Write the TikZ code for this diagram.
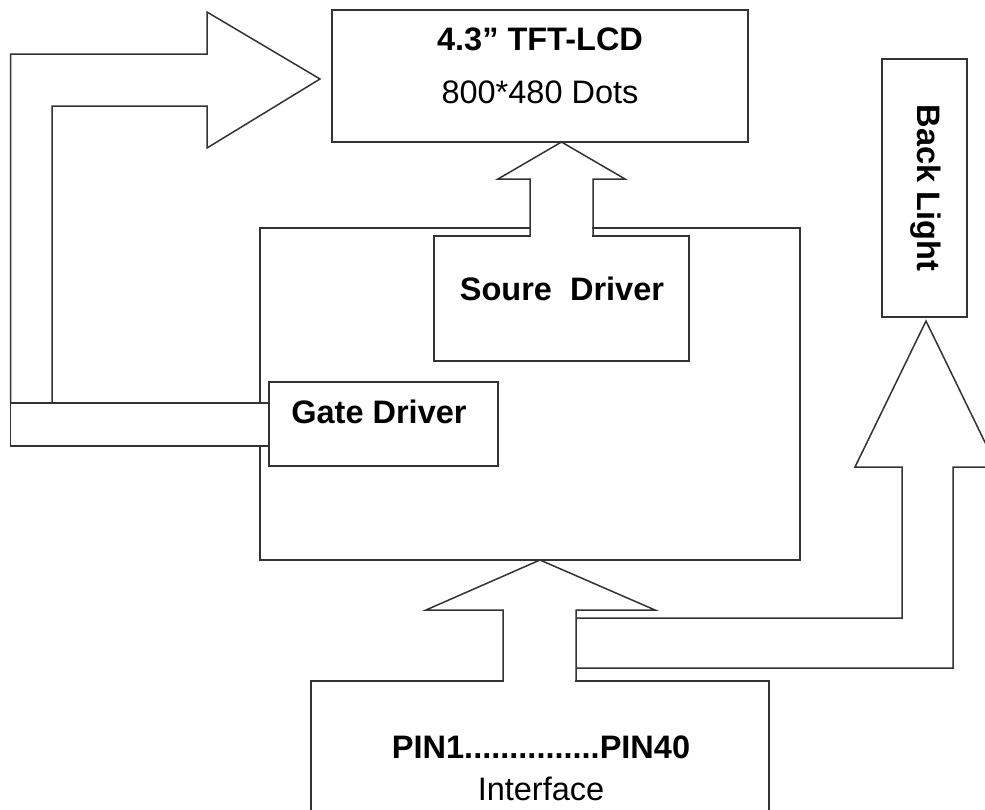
\documentclass[tikz,border=0pt]{standalone}
\usepackage{fontspec}
\setmainfont{Liberation Sans}
\usetikzlibrary{calc}
\begin{document}
\begin{tikzpicture}[x=1pt,y=-1pt,
  line/.style={draw=black!80, line width=1.5pt, line join=miter},
  box/.style={line, fill=white, rectangle, inner sep=0pt, outer sep=0pt},
  lbl/.style={font=\fontsize{32.5}{39}\selectfont, text=black, inner sep=0pt},
  blbl/.style={font=\fontsize{32.5}{39}\selectfont\bfseries, text=black, inner sep=0pt}]
\useasboundingbox[fill=white] (0,0) rectangle (985,809);

% main blocks
\node[box, minimum width=540pt, minimum height=332pt] (main) at (530,394) {};
\node[box, minimum width=416pt, minimum height=132pt] (lcd) at (540,76) {};
\node[box, minimum width=258.5pt, minimum height=43pt] (gbar) at (139.75,424.5) {};
\node[box, minimum width=229pt, minimum height=84pt] (gate) at (383.5,424) {};
\node[box, minimum width=255pt, minimum height=125pt] (src) at (561.5,298.5) {};
\node[box, minimum width=458pt, minimum height=154pt] (iface) at (540,758) {};
\node[box, minimum width=85pt, minimum height=258pt] (bl) at (924.5,188) {};

% source driver -> LCD block arrow
\fill[white] (530.75,226) rectangle (592.25,238);
\draw[line] (530,236) -- (530,179) -- (498,179) -- (src.north |- lcd.south)
  -- (625,179) -- (593,179) -- (593,236);

% gate driver -> LCD bent block arrow
\draw[line] (gbar.north west) -- (10.5,54) -- (207,54) -- (207,12) -- (320,79)
  -- (207,148) -- (207,106) -- (52,106) -- (52,403);

% interface -> main block arrow
\fill[white] (503.75,679) rectangle (575.25,683);
\draw[line] (503,681) -- (503,610) -- (426,610) -- (iface.north |- main.south)
  -- (655,610) -- (576,610) -- (576,681);

% interface -> back light block arrow
\draw[line] (576,618) -- (902,618) -- (902,467) -- (855,467) -- (926,321)
  -- (997,467) -- (953,467) -- (953,668) -- (576,668);

% texts
\node[blbl, anchor=base] (t1) at (540,50) {4.3” TFT-LCD};
\node[lbl, anchor=base] (t2) at (540,103) {800*480 Dots};
\node[blbl, anchor=base] (t3) at (562,300) {Soure\ \ Driver};
\node[blbl, anchor=base] (t4) at (379,423) {Gate Driver};
\node[blbl, rotate=-90] (t5) at (926,188) {Back Light};
\node[blbl, anchor=base] (t6) at (541,758) {PIN1...............PIN40};
\node[lbl, anchor=base] (t7) at (541,800) {Interface};
\end{tikzpicture}
\end{document}
